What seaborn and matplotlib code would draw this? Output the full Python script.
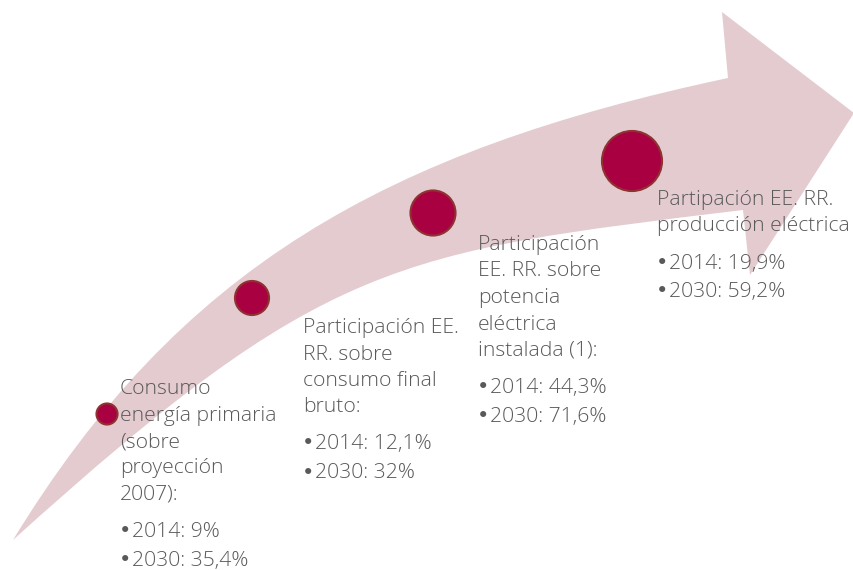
# Curved arrow with four milestones (renewables share, 2014 vs 2030)
import matplotlib
matplotlib.use('Agg')
import matplotlib.pyplot as plt
from matplotlib.path import Path
from matplotlib.patches import PathPatch
import pandas as pd
import seaborn as sns

# Data
headings = [
    ['Consumo', 'energía primaria', '(sobre', 'proyección', '2007):'],
    ['Participación EE.', 'RR. sobre', 'consumo final', 'bruto:'],
    ['Participación', 'EE. RR. sobre', 'potencia', 'eléctrica', 'instalada (1):'],
    ['Partipación EE. RR.', 'producción eléctrica'],
]
values_2014 = ['9%', '12,1%', '44,3%', '19,9%']
values_2030 = ['35,4%', '32%', '71,6%', '59,2%']

# milestone circles (pixel layout of the original graphic)
circle_x = [107, 252, 433, 632]
circle_y = [414, 298, 213, 161]
circle_r = [11.5, 18, 23.5, 31]

# text block anchors (left x, first baseline)
text_x = [120, 303, 478, 657]
text_y = [394, 333, 250, 205]

pink = '#E4CBD0'
crimson = '#A80040'
edge = '#8E3232'
grey = '#595959'
fs = 15.2

sns.set_theme(style='white')
plt.rcParams['font.family'] = ['Open Sans', 'DejaVu Sans']

fig = plt.figure(figsize=(8.54, 5.70), dpi=100)
ax = fig.add_axes([0, 0, 1, 1])

# arrow shape
verts = [(13, 540),
         (179, 268), (385, 151), (728, 78),
         (722, 12), (854, 113), (750, 275), (743, 210),
         (396, 252), (324, 259), (13, 540),
         (13, 540)]
codes = [Path.MOVETO,
         Path.CURVE4, Path.CURVE4, Path.CURVE4,
         Path.LINETO, Path.LINETO, Path.LINETO, Path.LINETO,
         Path.CURVE4, Path.CURVE4, Path.CURVE4,
         Path.CLOSEPOLY]
ax.add_patch(PathPatch(Path(verts, codes), facecolor=pink, edgecolor='none'))

# circles
df = pd.DataFrame({'x': circle_x, 'y': circle_y, 'r': circle_r})
sizes = {r: (2 * r * 0.72 - 1.4) ** 2 for r in circle_r}
sns.scatterplot(data=df, x='x', y='y', size='r', sizes=sizes, color=crimson,
                edgecolor=edge, linewidth=1.5, legend=False, ax=ax, zorder=3)
ax.set_xlim(0, 854)
ax.set_ylim(570, 0)
ax.axis('off')

# text blocks
line_gap = 26.5
for i in range(4):
    x = text_x[i]
    y = text_y[i]
    for line in headings[i]:
        ax.text(x, y, line, color=grey, fontsize=fs, fontweight='light',
                va='baseline', ha='left')
        y += line_gap
    y += 37 - line_gap
    for j, val in enumerate(['2014: ' + values_2014[i], '2030: ' + values_2030[i]]):
        yy = y + 29 * j
        ax.text(x - 1, yy, '•', color=grey, fontsize=fs, fontweight='normal',
                va='baseline', ha='left', family=['DejaVu Sans'])
        ax.text(x + 12, yy, val, color=grey, fontsize=fs, fontweight='light',
                va='baseline', ha='left')

fig.savefig('out.png', dpi=100)
